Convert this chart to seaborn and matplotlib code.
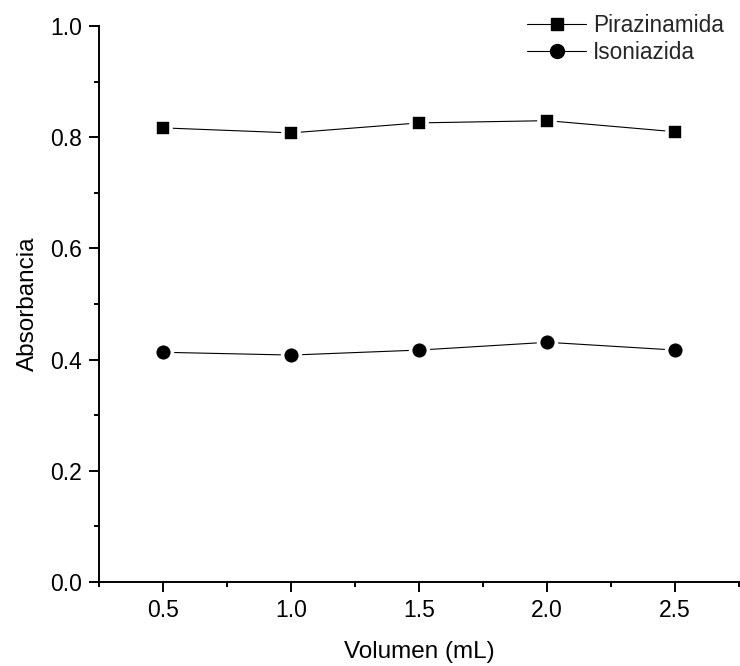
import matplotlib
matplotlib.use("Agg")
import matplotlib.pyplot as plt
from matplotlib.ticker import MultipleLocator
from matplotlib.lines import Line2D
import seaborn as sns
import pandas as pd

volumen = [0.5, 1.0, 1.5, 2.0, 2.5]
pirazinamida = [0.817, 0.808, 0.826, 0.830, 0.810]
isoniazida = [0.413, 0.408, 0.417, 0.431, 0.417]
series_names = ["Pirazinamida", "Isoniazida"]
x_ticks = [0.5, 1.0, 1.5, 2.0, 2.5]
y_ticks = [0.0, 0.2, 0.4, 0.6, 0.8, 1.0]

df = pd.DataFrame({
    "Volumen": volumen * 2,
    "Absorbancia": pirazinamida + isoniazida,
    "Serie": [series_names[0]] * len(volumen) + [series_names[1]] * len(volumen),
})

sns.set_theme(style="ticks")
plt.rcParams["font.family"] = ["Liberation Sans", "DejaVu Sans"]

fig = plt.figure(figsize=(7.4, 6.66), dpi=100)
ax = fig.add_axes([0.134, 0.1266, 0.865, 0.834])

marker_map = {"Pirazinamida": ("s", 11.6), "Isoniazida": ("o", 12.8)}
for name in series_names:
    sub = df[df["Serie"] == name]
    mk, ms = marker_map[name]
    sns.lineplot(data=sub, x="Volumen", y="Absorbancia", color="black",
                 marker=mk, markersize=ms, markeredgecolor="white",
                 markeredgewidth=2.6, linewidth=0.8, legend=False, ax=ax, zorder=3)

ax.set_xlim(0.25, 2.75)
ax.set_ylim(0.0, 1.0)
ax.set_xticks(x_ticks)
ax.set_xticklabels([f"{v:.1f}" for v in x_ticks])
ax.set_yticks(y_ticks)
ax.set_yticklabels([f"{v:.1f}" for v in y_ticks])
ax.xaxis.set_minor_locator(MultipleLocator(0.25))
ax.yaxis.set_minor_locator(MultipleLocator(0.1))

for s in ["top", "right"]:
    ax.spines[s].set_visible(False)
for s in ["left", "bottom"]:
    ax.spines[s].set_linewidth(1.4)
    ax.spines[s].set_color("black")

ax.tick_params(axis="both", which="major", direction="out", length=7.5, width=1.4,
               labelsize=16.5, colors="black", pad=5)
ax.tick_params(axis="both", which="minor", direction="out", length=3.8, width=1.4,
               colors="black")

ax.set_xlabel("Volumen (mL)", fontsize=17.5, labelpad=14, color="black")
ax.set_ylabel("Absorbancia", fontsize=17.5, labelpad=8, color="black")

handles = [
    Line2D([], [], color="black", marker="s", markersize=8.6, linewidth=0.8),
    Line2D([], [], color="black", marker="o", markersize=10, linewidth=0.8),
]
ax.legend(handles, series_names, loc="upper right", bbox_to_anchor=(0.99, 1.038),
          frameon=False, fontsize=16.3, handlelength=2.6, handletextpad=0.3,
          labelspacing=0.18, borderaxespad=0)

fig.savefig("out.png", dpi=100, facecolor="white")
